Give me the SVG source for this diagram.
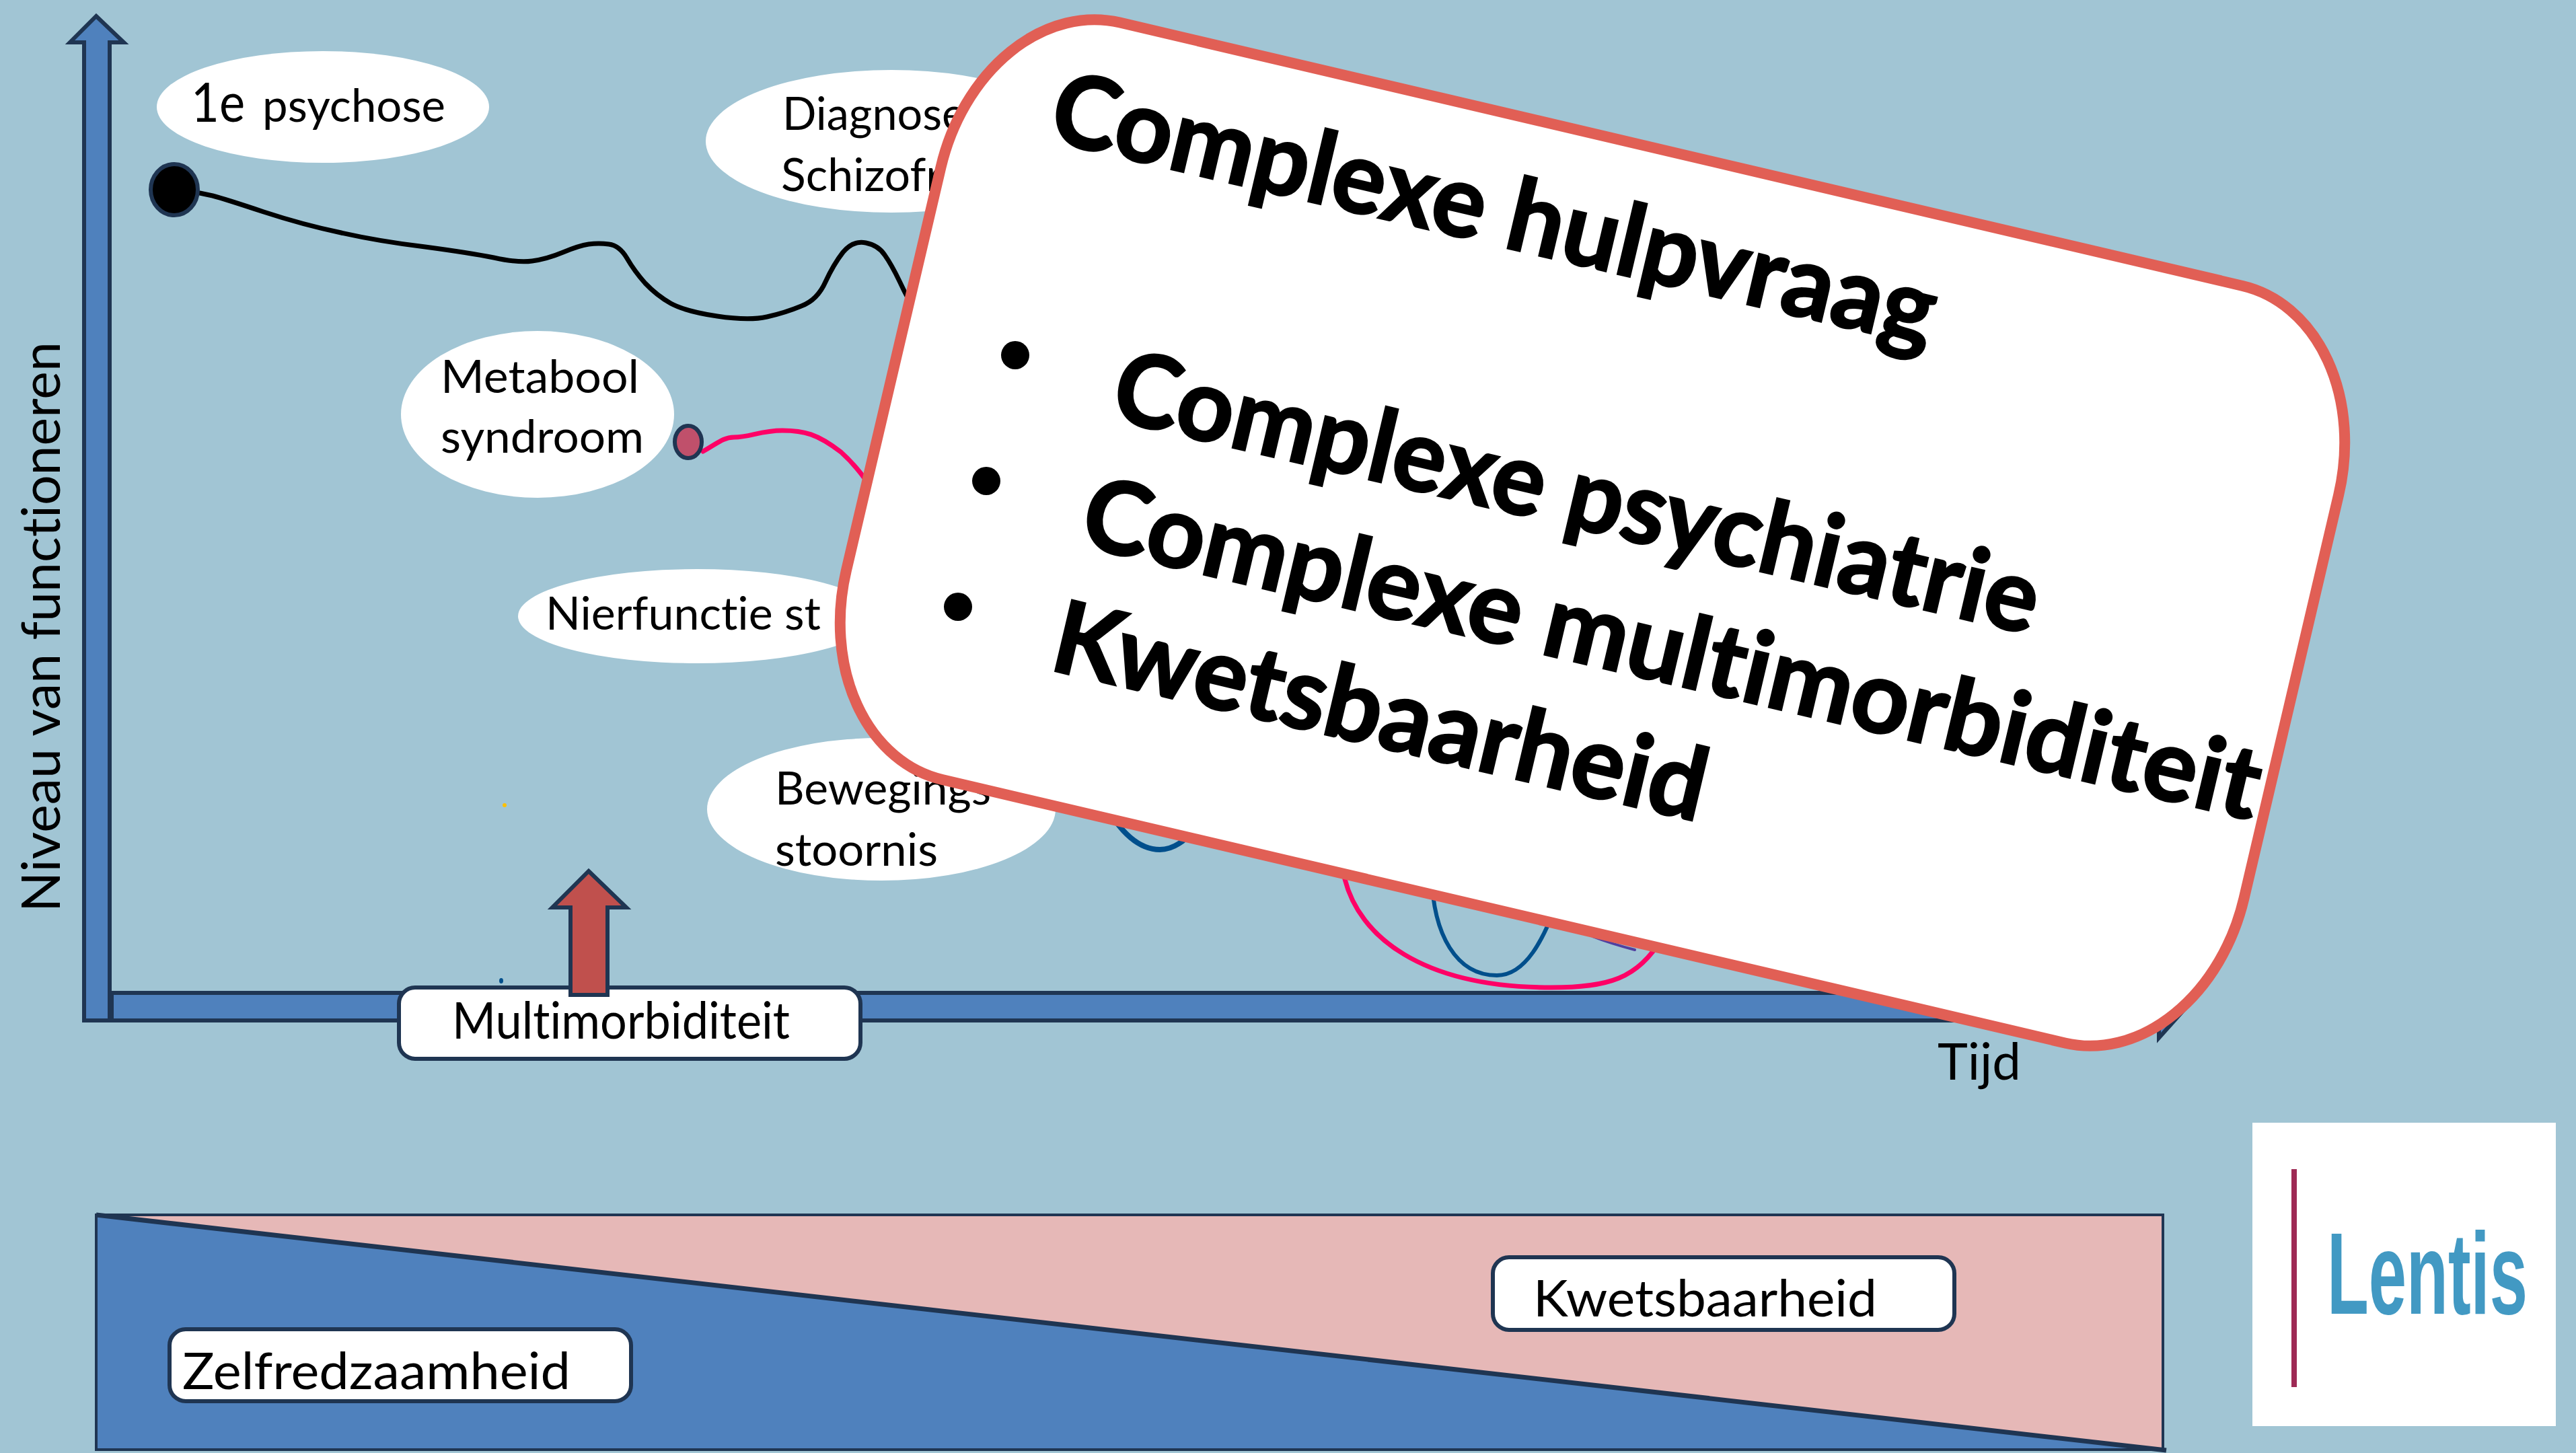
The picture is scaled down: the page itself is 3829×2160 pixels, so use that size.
<svg xmlns="http://www.w3.org/2000/svg" width="3829" height="2160" viewBox="0 0 3829 2160">
<style>
.t{font-family:Lato,"Liberation Sans",sans-serif;fill:#000;font-variant-ligatures:none}
.b{font-weight:700;stroke:#000;stroke-width:3}
.bubble{fill:#fff}
.box{fill:#fff;stroke:#1F3552;stroke-width:6}
.c{fill:none;stroke-linecap:round;stroke-linejoin:round}
</style>
<rect width="3829" height="2160" fill="#A1C5D4"/>
<g id="axes" fill="#4F81BD" stroke="#1F3552" stroke-width="6">
<path id="axis-y" d="M143 24L184 63H163V1517H125V63H104Z" stroke-linejoin="miter"/>
<path id="axis-x" d="M166 1476H3209V1450L3250 1497L3209 1543V1517H166Z"/>
</g>
<text class="t" transform="translate(89 1356) rotate(-90)" font-size="80" textLength="848" lengthAdjust="spacingAndGlyphs">Niveau van functioneren</text>
<g id="connectors" class="c">
<path d="M297 287L316 291Q335 296 392 315Q450 334 507 346Q565 359 632 367Q699 376 734 383Q770 391 791 388Q813 385 837 375Q861 365 875 363Q890 361 905 363Q921 365 932 384Q943 403 959 421Q976 439 997 451Q1019 463 1066 470Q1113 477 1140 471Q1167 465 1191 455Q1215 446 1227 419Q1239 393 1253 375Q1268 357 1287 361Q1306 365 1315 379Q1325 393 1337 418Q1349 444 1370 480" stroke="#000" stroke-width="7"/>
<path d="M1045 671C1065 660 1075 650 1091 650C1115 650 1130 640 1163 640C1195 640 1215 645 1250 672C1270 690 1290 715 1300 735" stroke="#FF0066" stroke-width="7"/>
<path d="M1640 1190C1665 1240 1695 1263 1724 1263C1745 1263 1760 1250 1780 1230" stroke="#004F8C" stroke-width="8"/>
<path d="M1995 1280L1999 1307C2020 1390 2110 1468 2306 1468C2390 1468 2435 1455 2470 1395" stroke="#FF0066" stroke-width="7"/>
<path d="M2128 1300C2130 1390 2165 1450 2225 1450C2268 1450 2295 1395 2315 1340" stroke="#004F8C" stroke-width="6"/>
<path d="M2367 1392Q2395 1403 2430 1412" stroke="#5040A0" stroke-width="4"/>
</g>
<g id="node-1e-psychose">
<ellipse class="bubble" cx="480" cy="159" rx="247" ry="83"/>
<text class="t" x="284" y="181" font-size="82" textLength="80" lengthAdjust="spacingAndGlyphs">1e</text>
<text class="t" x="390" y="181" font-size="68" textLength="272" lengthAdjust="spacingAndGlyphs">psychose</text>
<ellipse cx="259" cy="282" rx="35" ry="38" fill="#000" stroke="#1F3552" stroke-width="6"/>
</g>
<g id="node-diagnose">
<ellipse class="bubble" cx="1325" cy="210" rx="276" ry="106"/>
<text class="t" x="1163" y="193" font-size="68" textLength="272" lengthAdjust="spacingAndGlyphs">Diagnose</text>
<text class="t" x="1161" y="284" font-size="68" textLength="240" lengthAdjust="spacingAndGlyphs">Schizofr</text>
</g>
<g id="node-metabool">
<ellipse class="bubble" cx="799" cy="616" rx="203" ry="124"/>
<text class="t" x="655" y="584" font-size="68" textLength="295" lengthAdjust="spacingAndGlyphs">Metabool</text>
<text class="t" x="655" y="673" font-size="68" textLength="302" lengthAdjust="spacingAndGlyphs">syndroom</text>
<ellipse cx="1023" cy="657" rx="20" ry="24" fill="#C0506B" stroke="#1F3552" stroke-width="6"/>
</g>
<g id="node-nierfunctie">
<ellipse class="bubble" cx="1036" cy="916" rx="266" ry="70"/>
<text class="t" x="811" y="936" font-size="68" textLength="409" lengthAdjust="spacingAndGlyphs">Nierfunctie st</text>
</g>
<g id="node-beweging">
<ellipse class="bubble" cx="1310" cy="1203" rx="259" ry="106"/>
<text class="t" x="1152" y="1196" font-size="68" textLength="321" lengthAdjust="spacingAndGlyphs">Bewegings</text>
<text class="t" x="1152" y="1287" font-size="68" textLength="242" lengthAdjust="spacingAndGlyphs">stoornis</text>
</g>
<ellipse cx="750" cy="1197" rx="3" ry="3" fill="#FFC000"/>
<ellipse cx="745" cy="1458" rx="3" ry="4" fill="#004F8C"/>
<g id="node-multimorbiditeit">
<rect class="box" x="593" y="1468" width="686" height="106" rx="24"/>
<text class="t" x="672" y="1544" font-size="76" textLength="502" lengthAdjust="spacingAndGlyphs">Multimorbiditeit</text>
<path d="M875 1295L931 1349H903V1479H848V1349H821Z" fill="#C0504D" stroke="#1F3552" stroke-width="6"/>
</g>
<g id="node-callout">
<rect x="-1067" y="-578" width="2134" height="1156" rx="210" ry="270" transform="translate(2367 792) rotate(13.2)" fill="#fff" stroke="#E15F55" stroke-width="16"/>
<ellipse cx="1509" cy="528" rx="21" ry="21"/>
<ellipse cx="1466" cy="715" rx="21" ry="21"/>
<ellipse cx="1424" cy="902" rx="21" ry="21"/>
<text class="t b" transform="translate(1555 208) rotate(13.2)" font-size="150" textLength="1345" lengthAdjust="spacingAndGlyphs">Complexe hulpvraag</text>
<text class="t b" transform="translate(1647 622) rotate(13.2)" font-size="150" textLength="1408" lengthAdjust="spacingAndGlyphs">Complexe psychiatrie</text>
<text class="t b" transform="translate(1601 810) rotate(13.2)" font-size="150" textLength="1793" lengthAdjust="spacingAndGlyphs">Complexe multimorbiditeit</text>
<text class="t b" transform="translate(1557 995) rotate(13.2)" font-size="150" textLength="993" lengthAdjust="spacingAndGlyphs">Kwetsbaarheid</text>
</g>
<text class="t" x="2880" y="1605" font-size="76" textLength="124" lengthAdjust="spacingAndGlyphs">Tijd</text>
<g id="node-balance">
<rect x="143" y="1806" width="3072" height="349" fill="#E6B8B7"/>
<path d="M143 1806L3215 2155H143Z" fill="#4F81BD"/>
<path d="M143 1806H3215V2155H143Z" fill="none" stroke="#1F3552" stroke-width="4"/>
<path d="M143 1806L3220 2156" fill="none" stroke="#1F3552" stroke-width="7"/>
</g>
<g id="node-kwetsbaarheid">
<rect class="box" x="2219" y="1869" width="686" height="108" rx="24"/>
<text class="t" x="2279" y="1957" font-size="76" textLength="511" lengthAdjust="spacingAndGlyphs">Kwetsbaarheid</text>
</g>
<g id="node-zelfredzaamheid">
<rect class="box" x="252" y="1976" width="686" height="107" rx="24"/>
<text class="t" x="271" y="2065" font-size="76" textLength="577" lengthAdjust="spacingAndGlyphs">Zelfredzaamheid</text>
</g>
<g id="logo">
<rect x="3348" y="1669" width="451" height="451" fill="#fff"/>
<rect x="3406" y="1738" width="8" height="324" fill="#9E2A55"/>
<text x="3459" y="1953" font-family="Liberation Sans,sans-serif" font-weight="700" font-size="173" fill="#4299C3" textLength="298" lengthAdjust="spacingAndGlyphs">Lentis</text>
</g>
</svg>
